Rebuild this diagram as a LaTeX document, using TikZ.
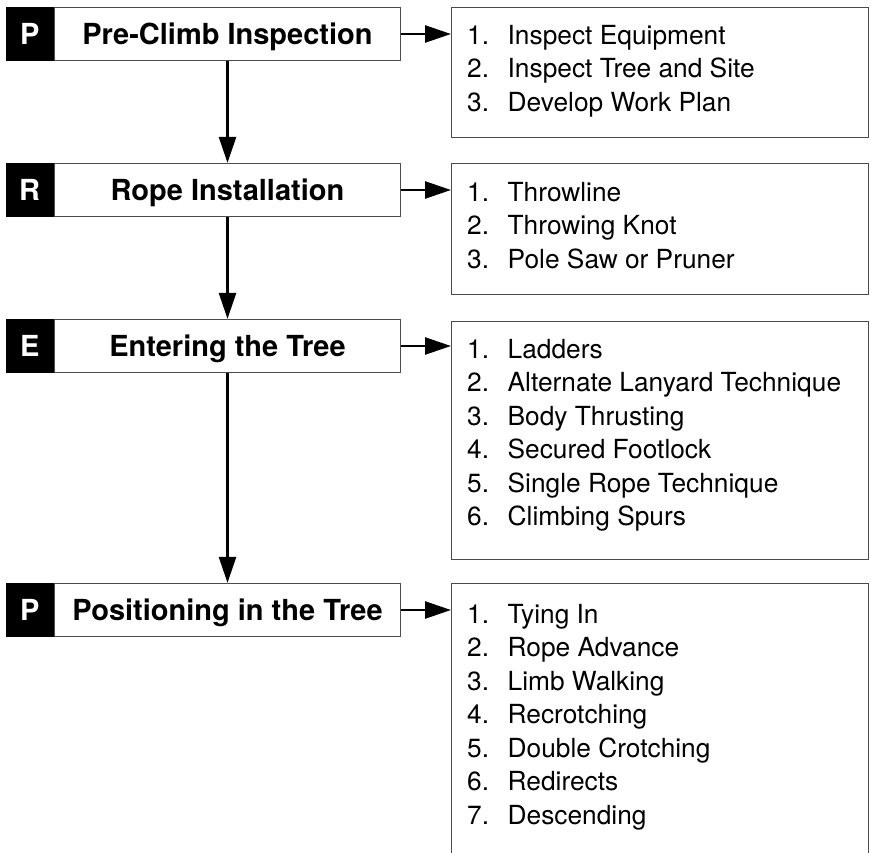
\documentclass[tikz,border=0pt]{standalone}
\usepackage{fontspec}
\setmainfont{TeX Gyre Heros}
\usetikzlibrary{arrows.meta,positioning}

\tikzset{
  etape/.style={draw=black!70, line width=1.2pt, fill=white, minimum width=346pt,
    minimum height=53pt, inner sep=0pt, text height=21pt, text depth=0pt,
    font=\fontsize{29}{34}\selectfont\bfseries},
  lettre/.style={fill=black, text=white, minimum width=48pt, minimum height=54pt,
    inner sep=0pt, font=\fontsize{29}{34}\selectfont\bfseries},
  cadre/.style={draw=black!70, line width=1.2pt, minimum width=417pt, inner sep=0pt,
    anchor=north west},
  liste/.style={anchor=north west, inner sep=0pt, align=left,
    font=\fontsize{26.3}{33.5}\selectfont},
  fleche/.style={line width=2.5pt, -{Triangle[length=26pt,width=17pt]}},
}
\newcommand{\numero}[1]{\makebox[40.5pt][l]{#1.}}

\begin{document}
\begin{tikzpicture}[x=1pt,y=-1pt]
\useasboundingbox (0,0) rectangle (871,853);

% Etapes
\node[etape] (pre) at (227.5,34) {Pre-Climb Inspection};
\node[etape] (rope) at (227.5,190) {Rope Installation};
\node[etape] (entree) at (227.5,346) {Entering the Tree};
\node[etape] (pos) at (227.5,610) {Positioning in the Tree};

% Lettres
\node[lettre, left=0pt of pre] (lp) {P};
\node[lettre, left=0pt of rope] (lr) {R};
\node[lettre, left=0pt of entree] (le) {E};
\node[lettre, left=0pt of pos] (lp2) {P};

% Cadres
\node[cadre, minimum height=130pt] (l1) at (451,7) {};
\node[cadre, minimum height=131pt] (l2) at (451,163) {};
\node[cadre, minimum height=238pt] (l3) at (451,321) {};
\node[cadre, minimum height=290pt] (l4) at (451,583) {};

% Listes
\node[liste, below right=18pt and 16pt of l1.north west] (t1)
  {\numero{1}Inspect Equipment\\ \numero{2}Inspect Tree and Site\\
   \numero{3}Develop Work Plan};
\node[liste, below right=19pt and 16pt of l2.north west] (t2)
  {\numero{1}Throwline\\ \numero{2}Throwing Knot\\ \numero{3}Pole Saw or Pruner};
\node[liste, below right=18pt and 16pt of l3.north west] (t3)
  {\numero{1}Ladders\\ \numero{2}Alternate Lanyard Technique\\
   \numero{3}Body Thrusting\\ \numero{4}Secured Footlock\\
   \numero{5}Single Rope Technique\\ \numero{6}Climbing Spurs};
\node[liste, below right=21pt and 16pt of l4.north west] (t4)
  {\numero{1}Tying In\\ \numero{2}Rope Advance\\ \numero{3}Limb Walking\\
   \numero{4}Recrotching\\ \numero{5}Double Crotching\\ \numero{6}Redirects\\
   \numero{7}Descending};

% Fleches
\draw[fleche] (pre) -- (rope);
\draw[fleche] (rope) -- (entree);
\draw[fleche] (entree) -- (pos);
\draw[fleche] (pre.east) -- (pre.east -| l1.west);
\draw[fleche] (rope.east) -- (rope.east -| l2.west);
\draw[fleche] (entree.east) -- (entree.east -| l3.west);
\draw[fleche] (pos.east) -- (pos.east -| l4.west);

\end{tikzpicture}
\end{document}
